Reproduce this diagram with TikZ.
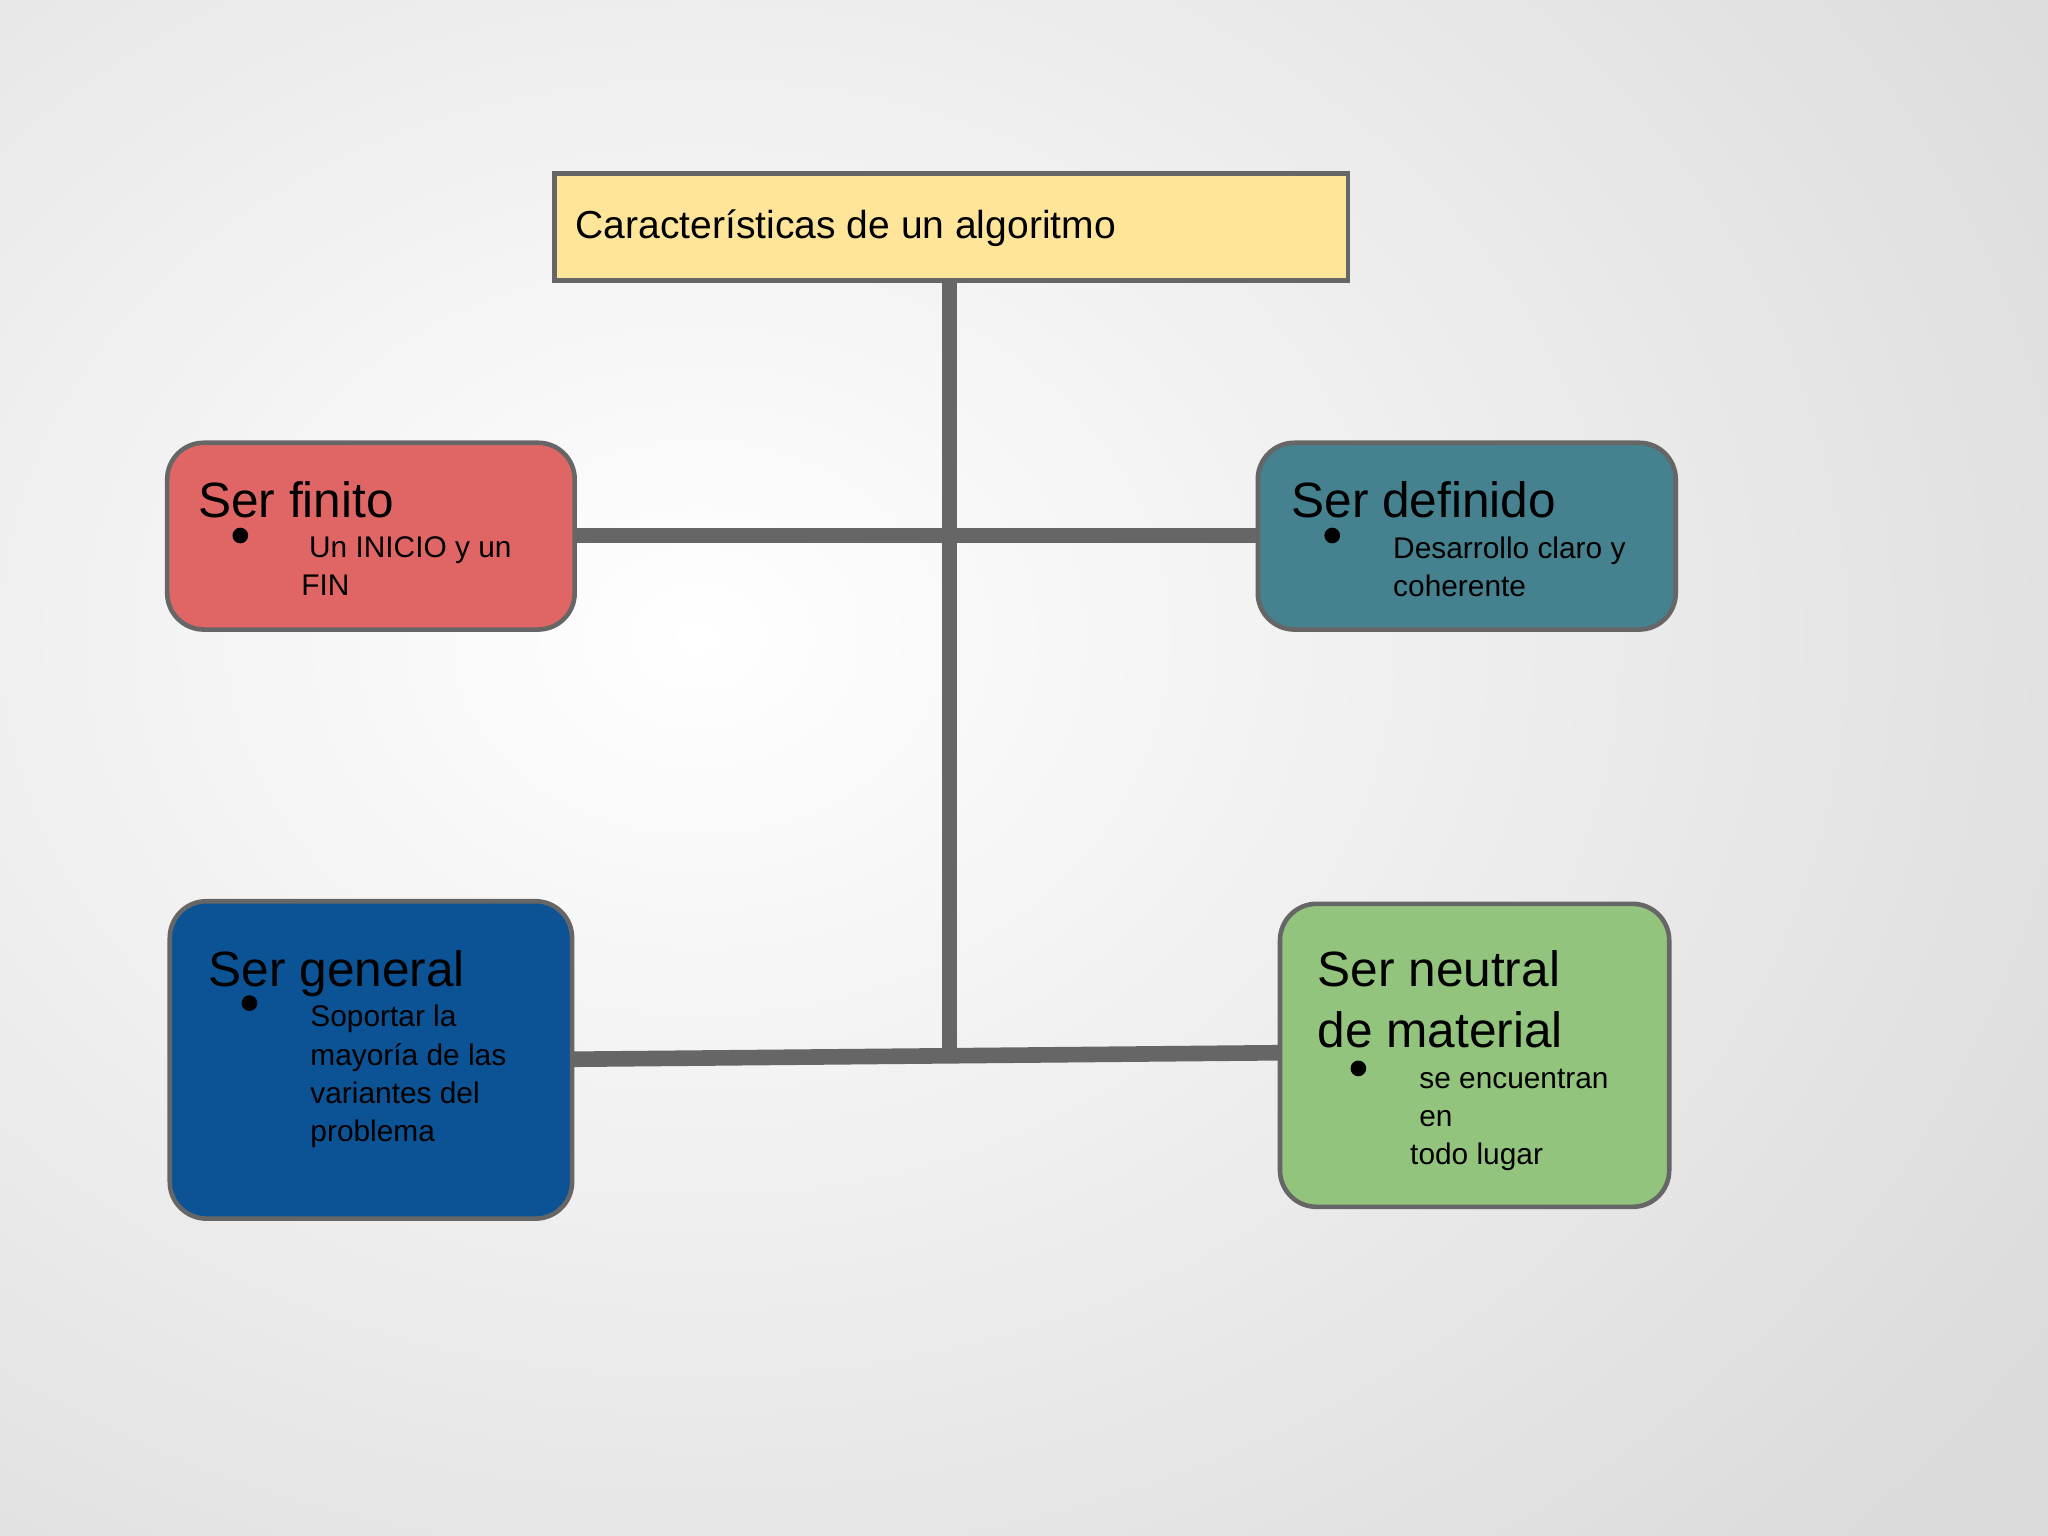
\documentclass[tikz,border=0pt]{standalone}
\usepackage{fontspec}
\setmainfont{Liberation Sans}
\definecolor{ln}{HTML}{666666}
\definecolor{ttl}{HTML}{FFE599}
\definecolor{rd}{HTML}{E06666}
\definecolor{tl}{HTML}{45818E}
\definecolor{bl}{HTML}{0B5394}
\definecolor{gr}{HTML}{93C47D}
\begin{document}
\begin{tikzpicture}[x=0.01cm,y=-0.01cm,
  card/.style={draw=ln,line width=1pt,rounded corners=0.28cm},
  conn/.style={ln,line width=3.4pt},
  head/.style={anchor=north west,inner sep=0pt,font=\fontsize{10.8}{13}\selectfont},
  body/.style={anchor=north west,inner sep=0pt,align=left,font=\fontsize{6.5}{8.3}\selectfont},
  dot/.style={circle,fill=black,inner sep=0pt,minimum size=0.12cm}]
\useasboundingbox (0,0) rectangle (1568,1176);
\shade[inner color=white,outer color=black!14] (-700,-500) rectangle (1768,1476);
\node[draw=ln,line width=1pt,fill=ttl,minimum width=6.07cm,minimum height=0.82cm,anchor=north west,inner sep=0pt] (t) at (423,131) {};
\node[anchor=west,inner sep=0pt,font=\fontsize{8.5}{10}\selectfont] at (440,175) {Características de un algoritmo};
\coordinate (v1) at (727,213);
\coordinate (v2) at (727,805);
\coordinate (h1) at (440,410);
\coordinate (h2) at (963,410);
\coordinate (b1) at (438,811);
\coordinate (b2) at (980,806);
\draw[conn] (v1) -- (v2);
\draw[conn] (h1) -- (h2);
\draw[conn] (b1) -- (b2);
\draw[card,fill=rd] (128,339) rectangle (440,482);
\draw[card,fill=tl] (963,339) rectangle (1283,482);
\draw[card,fill=bl] (130,690) rectangle (438,933);
\draw[card,fill=gr] (980,692) rectangle (1278,924);
\node[head] at (151,368) {Ser finito};
\node[dot] at (184,410) {};
\node[body] at (230,410) {\hspace*{0.06cm}Un INICIO y un\\FIN};
\node[head] at (988,368) {Ser definido};
\node[dot] at (1020,410) {};
\node[body] at (1066,410) {Desarrollo claro y\\coherente};
\node[head] at (159,727) {Ser general};
\node[dot] at (191,768) {};
\node[body] at (237,769) {Soportar la\\mayoría de las\\variantes del\\problema};
\node[head,align=left,font=\fontsize{10.8}{13.3}\selectfont] at (1008,727) {Ser neutral\\de material};
\node[dot] at (1040,818) {};
\node[body] at (1079,818) {\hspace*{0.07cm}se encuentran\\\hspace*{0.07cm}en\\todo lugar};
\end{tikzpicture}
\end{document}
